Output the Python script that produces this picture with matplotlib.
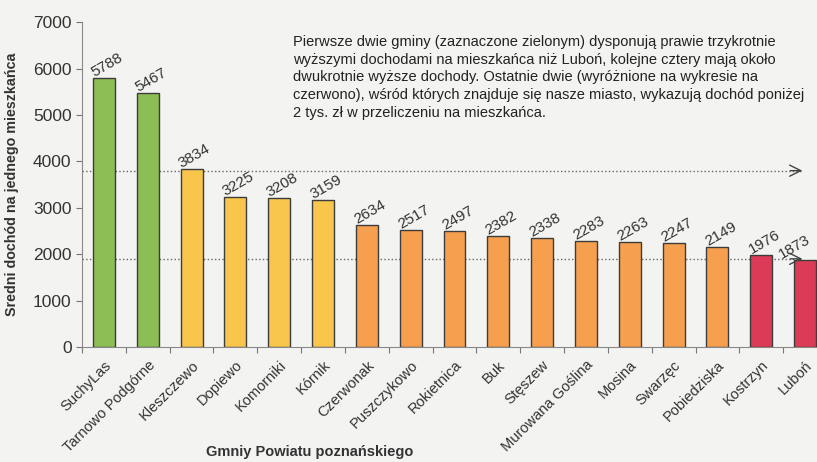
import numpy as np
import matplotlib
matplotlib.use('Agg')
import matplotlib.pyplot as plt

plt.rcParams['font.family'] = ['Liberation Sans', 'DejaVu Sans']

# Data
gminy = ['SuchyLas', 'Tarnowo Podgórne', 'Kleszczewo', 'Dopiewo', 'Komorniki',
         'Kórnik', 'Czerwonak', 'Puszczykowo', 'Rokietnica', 'Buk', 'Stęszew',
         'Murowana Goślina', 'Mosina', 'Swarzęc', 'Pobiedziska', 'Kostrzyn', 'Luboń']
dochod = [5788, 5467, 3834, 3225, 3208, 3159, 2634, 2517, 2497, 2382, 2338,
          2283, 2263, 2247, 2149, 1976, 1873]
grupa = ['g', 'g', 'y', 'y', 'y', 'y', 'o', 'o', 'o', 'o', 'o',
         'o', 'o', 'o', 'o', 'r', 'r']
poziomy = [3800, 1900]

GREEN = '#8dbd55'
YELLOW = '#f8c64d'
ORANGE = '#f6a04f'
RED = '#dc3b57'
BG = '#f3f3f1'
EDGE = '#3c3c3c'
TXT = '#333333'
kolory = {'g': GREEN, 'y': YELLOW, 'o': ORANGE, 'r': RED}

fig = plt.figure(figsize=(8.17, 4.62), dpi=100, facecolor=BG)
ax = fig.add_axes([82/817, 0.249, 745/817, 0.703])
ax.set_facecolor(BG)

x = np.arange(len(gminy))
ax.bar(x, dochod, width=0.5, color=[kolory[g] for g in grupa],
       edgecolor=EDGE, linewidth=1.0, zorder=3)

for xi, v in zip(x, dochod):
    # last label would run off the right edge, pull it in a little
    dx = 0.15 if xi < len(x) - 1 else -0.15
    ax.text(xi + dx, v + 150, str(v), rotation=30, fontsize=11, color=TXT,
            ha='center', va='bottom', rotation_mode='anchor')

# dotted reference lines with open arrow heads
for lvl in poziomy:
    ax.plot([-0.5, 15.95], [lvl, lvl], color='#666666', linestyle=':',
            linewidth=1.0, zorder=2)
    ax.annotate('', xy=(16.0, lvl), xytext=(15.6, lvl),
                arrowprops=dict(arrowstyle='->', color='#444444', lw=1.0,
                                mutation_scale=20), zorder=4)

ax.set_xlim(-0.5, 16.5)
ax.set_ylim(0, 7000)
ax.set_yticks(np.arange(0, 7001, 1000))
ax.tick_params(axis='y', labelsize=12.5, colors='#777777', labelcolor=TXT,
               length=4, direction='out')
ax.set_xticks(np.arange(-0.5, 16.6, 1))
ax.set_xticklabels([])
ax.tick_params(axis='x', length=4, direction='out', colors='#777777')
ax.set_xticks(x, minor=True)
ax.set_xticklabels(gminy, minor=True, rotation=45, ha='right',
                   rotation_mode='anchor', fontsize=10.5, color=TXT)
ax.tick_params(axis='x', which='minor', length=0, pad=8)

for s in ['top', 'right']:
    ax.spines[s].set_visible(False)
ax.spines['left'].set_color('#888888')
ax.spines['bottom'].set_color('#888888')

ax.set_ylabel('Sredni dochód na jednego mieszkańca', fontsize=10.3,
              fontweight='bold', color=TXT, labelpad=10)
fig.text(310/817, 1 - 452/462, 'Gmniy Powiatu poznańskiego', fontsize=10.5,
         fontweight='bold', color=TXT, ha='center', va='center')

opis = ('Pierwsze dwie gminy (zaznaczone zielonym) dysponują prawie trzykrotnie\n'
        'wyższymi dochodami na mieszkańca niż Luboń, kolejne cztery mają około\n'
        'dwukrotnie wyższe dochody. Ostatnie dwie (wyróżnione na wykresie na\n'
        'czerwono), wśród których znajduje się nasze miasto, wykazują dochód poniżej\n'
        '2 tys. zł w przeliczeniu na mieszkańca.')
fig.text(293/817, 1 - 35/462, opis, fontsize=10.5, color='#222222',
         ha='left', va='top', linespacing=1.33)

fig.savefig('out.png', dpi=100, facecolor=BG)
